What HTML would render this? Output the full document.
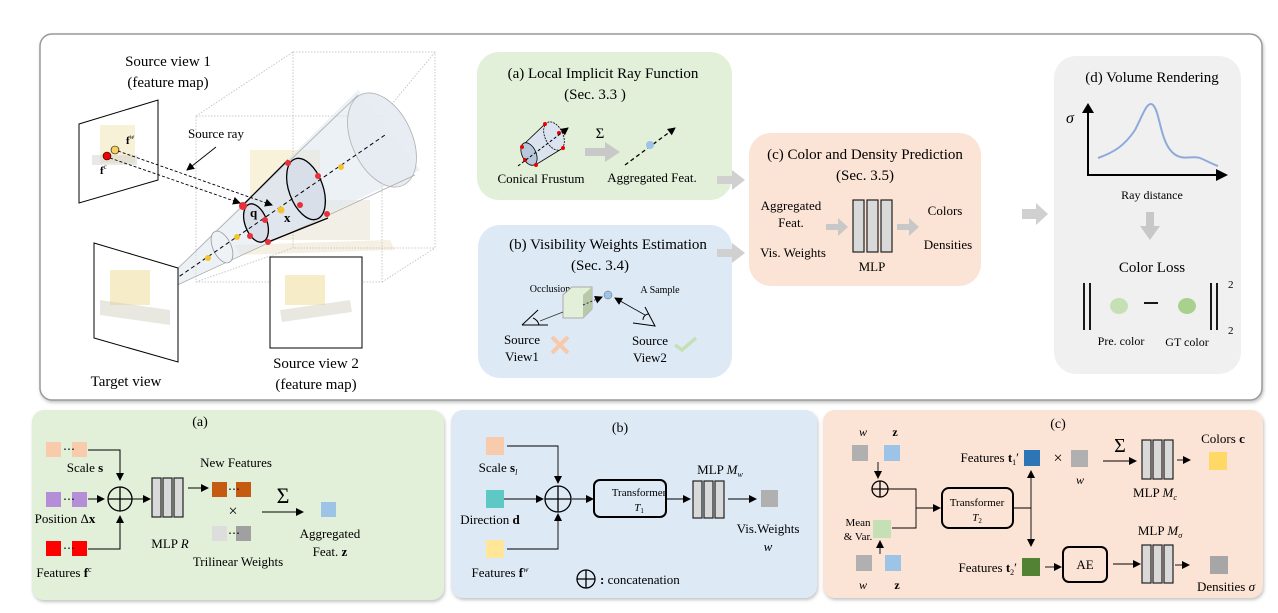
<!DOCTYPE html>
<html><head><meta charset="utf-8"><style>
html,body{margin:0;padding:0;background:#fff;}
svg{display:block;font-family:"Liberation Serif",serif;}
</style></head><body>
<svg width="1278" height="613" viewBox="0 0 1278 613" xmlns="http://www.w3.org/2000/svg">
<defs>
<marker id="ah" markerWidth="8" markerHeight="8" refX="7" refY="4" orient="auto" markerUnits="userSpaceOnUse"><path d="M0,0 L8,4 L0,8 z" fill="#000"/></marker>
<filter id="sh" x="-5%" y="-5%" width="110%" height="115%"><feDropShadow dx="1" dy="2" stdDeviation="1.5" flood-color="#888" flood-opacity="0.5"/></filter>
</defs>
<!-- top frame -->
<rect x="40" y="34" width="1222" height="366" rx="12" fill="#fff" stroke="#9a9a9a" stroke-width="1.5" filter="url(#sh)"/>

<!-- 3D scene -->
<g stroke="#bbb" stroke-width="0.8" stroke-dasharray="1.5,1.5" fill="none">
<rect x="196" y="116" width="186" height="166"/>
<rect x="293" y="52" width="142" height="196"/>
<line x1="196" y1="116" x2="293" y2="52"/><line x1="382" y1="116" x2="435" y2="52"/>
<line x1="382" y1="282" x2="435" y2="248"/><line x1="196" y1="282" x2="293" y2="248"/>
</g>
<!-- faint bulldozer -->
<g opacity="0.22">
<rect x="250" y="150" width="70" height="55" fill="#e8c860"/>
<polygon points="235,245 390,240 395,250 240,255" fill="#d9b98a"/>
<rect x="255" y="200" width="115" height="40" fill="#c9b890"/>
</g>
<!-- cone -->
<polygon points="145,300 358,90 420,170" fill="#dde6ee" opacity="0.55"/>
<ellipse cx="382" cy="140" rx="30" ry="50" transform="rotate(-25 382 140)" fill="#e6ecf2" stroke="#aaa" stroke-width="0.8" opacity="0.9"/>
<line x1="145" y1="300" x2="358" y2="95" stroke="#aaa" stroke-width="0.8"/>
<line x1="145" y1="300" x2="415" y2="175" stroke="#aaa" stroke-width="0.8"/>
<ellipse cx="222" cy="247" rx="9" ry="17" transform="rotate(-25 222 247)" fill="#eef2f6" stroke="#999" stroke-width="0.8"/>
<!-- frustum -->
<polygon points="243,205 288,160 328,217 268,240" fill="#dfe5ee" opacity="0.8"/>
<line x1="243" y1="205" x2="288" y2="160" stroke="#000" stroke-width="1.3"/>
<line x1="268" y1="242" x2="328" y2="218" stroke="#000" stroke-width="1.3"/>
<ellipse cx="306" cy="189" rx="17" ry="32" transform="rotate(-20 306 189)" fill="#d8dfe9" stroke="#000" stroke-width="1.3"/>
<ellipse cx="256" cy="223" rx="11" ry="20" transform="rotate(-20 256 223)" fill="#d8dfe9" stroke="#000" stroke-width="1.3"/>
<line x1="145" y1="300" x2="385" y2="135" stroke="#000" stroke-width="1" stroke-dasharray="4,3"/>
<g fill="#f4c430"><circle cx="208" cy="258" r="3"/><circle cx="237" cy="237" r="3"/><circle cx="281" cy="210" r="3.5"/><circle cx="341" cy="167" r="3"/></g>
<g fill="#e8303a"><circle cx="243" cy="206" r="4"/><circle cx="265" cy="220" r="3"/><circle cx="250" cy="236" r="3"/><circle cx="268" cy="242" r="3"/><circle cx="288" cy="163" r="3"/><circle cx="318" cy="176" r="3"/><circle cx="300" cy="205" r="3"/><circle cx="327" cy="214" r="3"/></g>
<text x="250" y="217" font-size="13" font-weight="bold">q</text>
<text x="284" y="222" font-size="13" font-weight="bold">x</text>
<!-- source view 1 -->
<polygon points="79,124 158,100 158,180 79,203" fill="#fff" stroke="#000" stroke-width="1"/>
<rect x="100" y="125" width="35" height="38" fill="#e8d890" opacity="0.35"/>
<rect x="92" y="155" width="45" height="10" fill="#ccc" opacity="0.45"/>
<circle cx="107" cy="156" r="4" fill="#e00" stroke="#000" stroke-width="0.6"/>
<circle cx="115" cy="150" r="4" fill="#f7d060" stroke="#000" stroke-width="0.6"/>
<text x="126" y="144" font-size="11" font-weight="bold">f<tspan font-size="7" dy="-5" font-style="italic" font-weight="normal">w</tspan></text>
<text x="100" y="174" font-size="11" font-weight="bold">f<tspan font-size="7" dy="-5" font-weight="normal">c</tspan></text>
<line x1="118" y1="151" x2="272" y2="205" stroke="#000" stroke-width="0.9" stroke-dasharray="3,2" marker-end="url(#ah)"/>
<line x1="110" y1="158" x2="240" y2="203" stroke="#000" stroke-width="0.9" stroke-dasharray="3,2" marker-end="url(#ah)"/>
<text x="188" y="138" font-size="13">Source ray</text>
<line x1="216" y1="147" x2="187" y2="170" stroke="#000" stroke-width="0.9" marker-end="url(#ah)"/>
<text x="168" y="66" font-size="15" text-anchor="middle">Source view 1</text>
<text x="168" y="87" font-size="15" text-anchor="middle">(feature map)</text>
<!-- target view -->
<polygon points="94,243 178,268 178,362 94,338" fill="#fff" stroke="#000" stroke-width="1"/>
<rect x="110" y="270" width="40" height="35" fill="#e8c860" opacity="0.35"/>
<polygon points="100,300 170,310 170,325 100,315" fill="#ccb" opacity="0.45"/>
<text x="126" y="386" font-size="15" text-anchor="middle">Target view</text>
<!-- source view 2 -->
<rect x="270" y="257" width="92" height="91" fill="#fff" stroke="#000" stroke-width="1"/>
<rect x="285" y="275" width="40" height="30" fill="#e8c860" opacity="0.35"/>
<polygon points="280,310 350,300 352,312 282,322" fill="#ccb" opacity="0.45"/>
<text x="316" y="368" font-size="15" text-anchor="middle">Source view 2</text>
<text x="316" y="389" font-size="15" text-anchor="middle">(feature map)</text>

<!-- (a) top -->
<rect x="477" y="52" width="255" height="148" rx="22" fill="#e2efd9"/>
<text x="603" y="78" font-size="15" text-anchor="middle">(a) Local Implicit Ray Function</text>
<text x="595" y="99" font-size="15" text-anchor="middle">(Sec. 3.3 )</text>
<polygon points="522,146 545,124 563,148 537,164" fill="#dbe3ee" stroke="#000" stroke-width="0.8"/>
<ellipse cx="554" cy="136" rx="9" ry="15" transform="rotate(-25 554 136)" fill="#dbe3ee" stroke="#000" stroke-width="0.8" stroke-dasharray="2,1"/>
<ellipse cx="529" cy="154" rx="7" ry="12" transform="rotate(-25 529 154)" fill="#b8c8dc" stroke="#000" stroke-width="0.8"/>
<g fill="#e00"><circle cx="545" cy="124" r="2"/><circle cx="522" cy="147" r="2"/><circle cx="536" cy="165" r="2"/><circle cx="563" cy="148" r="2"/><circle cx="559" cy="133" r="2"/><circle cx="525" cy="160" r="2"/></g>
<line x1="518" y1="166" x2="568" y2="128" stroke="#000" stroke-dasharray="3,2" marker-end="url(#ah)"/>
<text x="600" y="138" font-size="15" text-anchor="middle">Σ</text>
<polygon points="585,148 605,148 605,142 620,152 605,162 605,156 585,156" fill="#c8c8c8"/>
<line x1="625" y1="165" x2="675" y2="128" stroke="#000" stroke-width="1.3" stroke-dasharray="4,3" marker-end="url(#ah)"/>
<circle cx="650" cy="145" r="4" fill="#9dc3e6"/>
<text x="541" y="183" font-size="13" text-anchor="middle">Conical Frustum</text>
<text x="652" y="182" font-size="13" text-anchor="middle">Aggregated Feat.</text>
<!-- (b) top -->
<rect x="478" y="225" width="254" height="153" rx="22" fill="#dde9f5"/>
<text x="608" y="249" font-size="15" text-anchor="middle">(b) Visibility Weights Estimation</text>
<text x="600" y="270" font-size="15" text-anchor="middle">(Sec. 3.4)</text>
<text x="550" y="292" font-size="10" text-anchor="middle">Occlusion</text>
<text x="660" y="293" font-size="10" text-anchor="middle">A Sample</text>
<polygon points="563,295 572,287 592,287 592,309 583,318 563,318" fill="#e2efd9" stroke="#aaa" stroke-width="1"/>
<polygon points="583,295 592,287 592,309 583,318" fill="#b8c8a8"/>
<line x1="540" y1="321" x2="563" y2="312" stroke="#333" stroke-width="0.8"/>
<path d="M522,325 L538,310 M522,325 L548,325 M533,318 A10 10 0 0 1 539,325" stroke="#000" fill="none" stroke-width="1"/>
<line x1="583" y1="305" x2="602" y2="297" stroke="#333" stroke-dasharray="2,2" marker-end="url(#ah)"/>
<circle cx="608" cy="295" r="4" fill="#9dc3e6" stroke="#666" stroke-width="0.5"/>
<line x1="645" y1="315" x2="615" y2="298" stroke="#000" stroke-width="0.8" marker-end="url(#ah)"/>
<path d="M633,323 L655,326 L645,307 M643,320 A6 6 0 0 1 649,314" stroke="#000" fill="none" stroke-width="1"/>
<text x="522" y="344" font-size="13" text-anchor="middle">Source</text>
<text x="522" y="361" font-size="13" text-anchor="middle">View1</text>
<path d="M552,337 L568,353 M568,337 L552,353" stroke="#f8c8a8" stroke-width="4"/>
<text x="650" y="345" font-size="13" text-anchor="middle">Source</text>
<text x="650" y="362" font-size="13" text-anchor="middle">View2</text>
<path d="M675,345 L682,350 L696,338" stroke="#c5e0b4" stroke-width="3.5" fill="none"/>
<!-- gray arrows -->
<polygon points="717,176 732,176 732,170 745,180 732,190 732,184 717,184" fill="#d0d0d0"/>
<polygon points="717,249 732,249 732,243 745,253 732,263 732,257 717,257" fill="#d0d0d0"/>
<!-- (c) top -->
<rect x="749" y="133" width="232" height="153" rx="22" fill="#fbe3d5"/>
<text x="865" y="159" font-size="15" text-anchor="middle">(c) Color and Density Prediction</text>
<text x="865" y="180" font-size="15" text-anchor="middle">(Sec. 3.5)</text>
<text x="791" y="210" font-size="13" text-anchor="middle">Aggregated</text>
<text x="791" y="227" font-size="13" text-anchor="middle">Feat.</text>
<text x="793" y="257" font-size="13" text-anchor="middle">Vis. Weights</text>
<g fill="#d9d9d9" stroke="#222" stroke-width="1.2"><rect x="853" y="200" width="11" height="52"/><rect x="867" y="200" width="11" height="52"/><rect x="881" y="200" width="11" height="52"/></g>
<text x="872" y="271" font-size="13" text-anchor="middle">MLP</text>
<polygon points="826,224 838,224 838,218 848,227 838,236 838,230 826,230" fill="#c8c8c8"/>
<polygon points="897,224 909,224 909,218 919,227 909,236 909,230 897,230" fill="#c8c8c8"/>
<text x="945" y="215" font-size="13" text-anchor="middle">Colors</text>
<text x="948" y="249" font-size="13" text-anchor="middle">Densities</text>
<polygon points="1022,209 1036,209 1036,203 1048,214 1036,225 1036,219 1022,219" fill="#d0d0d0"/>
<!-- (d) -->
<rect x="1054" y="56" width="187" height="318" rx="22" fill="#f0f0f0"/>
<text x="1152" y="82" font-size="15" text-anchor="middle">(d)  Volume Rendering</text>
<line x1="1088" y1="176" x2="1088" y2="112" stroke="#000" stroke-width="2"/>
<polygon points="1082,113 1088,103 1094,113" fill="#000"/>
<line x1="1087" y1="175" x2="1218" y2="175" stroke="#000" stroke-width="2"/>
<polygon points="1216,169 1228,175 1216,181" fill="#000"/>
<text x="1066" y="123" font-size="16" font-style="italic">σ</text>
<path d="M1098,158 C1115,152 1125,145 1135,130 C1143,115 1147,100 1153,105 C1160,112 1160,140 1172,152 C1182,162 1192,155 1200,158 C1205,160 1212,164 1218,166" fill="none" stroke="#8eaadb" stroke-width="2"/>
<text x="1152" y="199" font-size="12" text-anchor="middle">Ray distance</text>
<polygon points="1146,212 1154,212 1154,226 1160,226 1150,240 1140,226 1146,226" fill="#c8c8c8"/>
<text x="1152" y="272" font-size="15" text-anchor="middle">Color Loss</text>
<g stroke="#000" stroke-width="1.8"><line x1="1084" y1="283" x2="1084" y2="330"/><line x1="1090" y1="283" x2="1090" y2="330"/><line x1="1211" y1="283" x2="1211" y2="330"/><line x1="1217" y1="283" x2="1217" y2="330"/><line x1="1144" y1="303" x2="1158" y2="303"/></g>
<ellipse cx="1119" cy="306" rx="9" ry="8" fill="#c5e0b4"/>
<ellipse cx="1187" cy="306" rx="9" ry="8" fill="#a9d18e"/>
<text x="1228" y="288" font-size="11">2</text><text x="1228" y="334" font-size="11">2</text>
<text x="1121" y="345" font-size="12" text-anchor="middle">Pre. color</text>
<text x="1187" y="346" font-size="12" text-anchor="middle">GT color</text>

<!-- ===== bottom (a) ===== -->
<rect x="32" y="410" width="412" height="190" rx="12" fill="#e2efd9" filter="url(#sh)"/>
<text x="200" y="426" font-size="14" text-anchor="middle">(a)</text>
<g stroke="#000" stroke-width="1" fill="none">
<polyline points="88,450 120,450 120,480" marker-end="url(#ah)"/>
<line x1="88" y1="499" x2="104" y2="499" marker-end="url(#ah)"/>
<polyline points="88,549 120,549 120,516" marker-end="url(#ah)"/>
<line x1="132" y1="499" x2="150" y2="499" marker-end="url(#ah)"/>
<line x1="188" y1="488" x2="208" y2="488" marker-end="url(#ah)"/>
<line x1="262" y1="512" x2="303" y2="512" marker-end="url(#ah)"/>
</g>
<circle cx="120" cy="499" r="12" fill="none" stroke="#000" stroke-width="1.3"/>
<path d="M108,499 H132 M120,487 V511" stroke="#000" stroke-width="1.3"/>
<g fill="#f8cbad"><rect x="46" y="442" width="15" height="15"/><rect x="72" y="442" width="15" height="15"/></g>
<g fill="#b48fd8"><rect x="46" y="492" width="15" height="15"/><rect x="72" y="492" width="15" height="15"/></g>
<g fill="#f00"><rect x="46" y="541" width="15" height="15"/><rect x="72" y="541" width="15" height="15"/></g>
<g fill="#c55a11"><rect x="212" y="482" width="15" height="15"/><rect x="236" y="482" width="15" height="15"/></g>
<rect x="212" y="526" width="15" height="15" fill="#ddd"/><rect x="236" y="526" width="15" height="15" fill="#a0a0a0"/>
<rect x="321" y="502" width="15" height="15" fill="#9dc3e6"/>
<g font-size="12"><text x="63" y="453">⋯</text><text x="63" y="503">⋯</text><text x="63" y="552">⋯</text><text x="228" y="493">⋯</text><text x="228" y="537">⋯</text></g>
<g fill="#d9d9d9" stroke="#222" stroke-width="1.2"><rect x="152" y="478" width="9" height="39"/><rect x="163" y="478" width="9" height="39"/><rect x="174" y="478" width="9" height="39"/></g>
<g font-size="13" text-anchor="middle">
<text x="85" y="472">Scale <tspan font-weight="bold">s</tspan></text>
<text x="65" y="523">Position Δ<tspan font-weight="bold">x</tspan></text>
<text x="64" y="577">Features  <tspan font-weight="bold">f</tspan><tspan font-size="8" dy="-5">c</tspan></text>
<text x="170" y="548">MLP <tspan font-style="italic">R</tspan></text>
<text x="236" y="467">New Features</text>
<text x="238" y="566">Trilinear Weights</text>
<text x="330" y="538">Aggregated</text>
<text x="330" y="556">Feat. <tspan font-weight="bold">z</tspan></text>
</g>
<text x="233" y="516" font-size="16" text-anchor="middle">×</text>
<text x="283" y="503" font-size="22" text-anchor="middle">Σ</text>

<!-- ===== bottom (b) ===== -->
<rect x="451" y="410" width="366" height="188" rx="12" fill="#dde9f5" filter="url(#sh)"/>
<text x="620" y="432" font-size="14" text-anchor="middle">(b)</text>
<g stroke="#000" stroke-width="0.9" fill="none">
<polyline points="507,446 558,446 558,483" marker-end="url(#ah)"/>
<line x1="503" y1="499" x2="543" y2="499" marker-end="url(#ah)"/>
<polyline points="507,549 558,549 558,514" marker-end="url(#ah)"/>
<line x1="572" y1="499" x2="593" y2="499" marker-end="url(#ah)"/>
<line x1="667" y1="499" x2="690" y2="499" marker-end="url(#ah)"/>
<line x1="728" y1="499" x2="756" y2="499" marker-end="url(#ah)"/>
</g>
<circle cx="558" cy="499" r="13" fill="none" stroke="#000" stroke-width="1.3"/>
<path d="M545,499 H571 M558,486 V512" stroke="#000" stroke-width="1.3"/>
<rect x="486" y="437" width="18" height="18" fill="#f8cbad"/>
<rect x="486" y="490" width="18" height="18" fill="#5ec8c4"/>
<rect x="486" y="540" width="18" height="18" fill="#ffe699"/>
<rect x="594" y="480" width="72" height="37" rx="6" fill="none" stroke="#000" stroke-width="2"/>
<text x="639" y="496" font-size="11" text-anchor="middle">Transformer</text>
<text x="639" y="511" font-size="11" font-style="italic" text-anchor="middle">T<tspan font-size="7" dy="2" font-style="normal">1</tspan></text>
<g fill="#d9d9d9" stroke="#222" stroke-width="1.2"><rect x="693" y="481" width="9" height="37"/><rect x="704" y="481" width="9" height="37"/><rect x="715" y="481" width="9" height="37"/></g>
<rect x="761" y="490" width="17" height="17" fill="#b0b0b0"/>
<g font-size="13" text-anchor="middle">
<text x="498" y="472">Scale <tspan font-weight="bold">s</tspan><tspan font-size="8" dy="3" font-style="italic">l</tspan></text>
<text x="490" y="524">Direction <tspan font-weight="bold">d</tspan></text>
<text x="500" y="577">Features <tspan font-weight="bold">f</tspan><tspan font-size="8" dy="-5" font-style="italic">w</tspan></text>
<text x="720" y="474">MLP <tspan font-style="italic">M</tspan><tspan font-size="8" dy="3" font-style="italic">w</tspan></text>
<text x="768" y="533">Vis.Weights</text>
<text x="768" y="551" font-style="italic">w</text>
</g>
<circle cx="586" cy="579" r="9" fill="none" stroke="#000" stroke-width="1.3"/>
<path d="M577,579 H595 M586,570 V588" stroke="#000" stroke-width="1.3"/>
<text x="600" y="584" font-size="13"><tspan font-weight="bold">:</tspan> concatenation</text>

<!-- ===== bottom (c) ===== -->
<rect x="823" y="410" width="440" height="188" rx="12" fill="#fbe3d5" filter="url(#sh)"/>
<text x="1058" y="428" font-size="14" text-anchor="middle">(c)</text>
<g font-size="12" text-anchor="middle">
<text x="863" y="436" font-style="italic">w</text><text x="895" y="436" font-weight="bold">z</text>
<text x="863" y="589" font-style="italic">w</text><text x="897" y="589" font-weight="bold">z</text>
<text x="1080" y="484" font-style="italic">w</text>
</g>
<rect x="852" y="445" width="16" height="16" fill="#b0b0b0"/><rect x="884" y="445" width="16" height="16" fill="#9dc3e6"/>
<rect x="856" y="555" width="16" height="16" fill="#b0b0b0"/><rect x="885" y="555" width="16" height="16" fill="#9dc3e6"/>
<circle cx="880" cy="489" r="8" fill="none" stroke="#000" stroke-width="1.3"/>
<path d="M872,489 H888 M880,481 V497" stroke="#000" stroke-width="1.3"/>
<rect x="873" y="520" width="18" height="18" fill="#c5e0b4"/>
<text x="858" y="526" font-size="11" text-anchor="middle">Mean</text>
<text x="858" y="540" font-size="11" text-anchor="middle">&amp; Var.</text>
<g stroke="#000" stroke-width="0.9" fill="none">
<line x1="878" y1="462" x2="878" y2="478" marker-end="url(#ah)"/>
<line x1="880" y1="554" x2="880" y2="541" marker-end="url(#ah)"/>
<polyline points="888,489 916,489 916,528 892,528"/>
<line x1="916" y1="508" x2="940" y2="508" marker-end="url(#ah)"/>
<line x1="1013" y1="508" x2="1031" y2="508"/>
<line x1="1031" y1="508" x2="1031" y2="471" marker-end="url(#ah)"/>
<line x1="1031" y1="508" x2="1031" y2="546" marker-end="url(#ah)"/>
<line x1="1103" y1="461" x2="1136" y2="461" marker-end="url(#ah)"/>
<line x1="1177" y1="460" x2="1190" y2="460" marker-end="url(#ah)"/>
<line x1="1045" y1="567" x2="1061" y2="567" marker-end="url(#ah)"/>
<line x1="1113" y1="564" x2="1140" y2="564" marker-end="url(#ah)"/>
<line x1="1175" y1="565" x2="1189" y2="565" marker-end="url(#ah)"/>
</g>
<rect x="942" y="488" width="71" height="40" rx="7" fill="none" stroke="#000" stroke-width="2"/>
<text x="977" y="506" font-size="11" text-anchor="middle">Transformer</text>
<text x="977" y="521" font-size="11" font-style="italic" text-anchor="middle">T<tspan font-size="7" dy="2" font-style="normal">2</tspan></text>
<text x="1019" y="462" font-size="13" text-anchor="end">Features <tspan font-weight="bold">t</tspan><tspan font-size="8" dy="3">1</tspan><tspan dy="-3">′</tspan></text>
<rect x="1024" y="450" width="16" height="16" fill="#2e75b6"/>
<text x="1058" y="463" font-size="16" text-anchor="middle">×</text>
<rect x="1071" y="450" width="17" height="17" fill="#b0b0b0"/>
<text x="1120" y="452" font-size="20" text-anchor="middle">Σ</text>
<g fill="#d9d9d9" stroke="#222" stroke-width="1.2"><rect x="1142" y="440" width="9" height="39"/><rect x="1153" y="440" width="9" height="39"/><rect x="1164" y="440" width="9" height="39"/></g>
<text x="1155" y="497" font-size="13" text-anchor="middle">MLP <tspan font-style="italic">M</tspan><tspan font-size="8" dy="3" font-style="italic">c</tspan></text>
<text x="1223" y="443" font-size="13" text-anchor="middle">Colors <tspan font-weight="bold">c</tspan></text>
<rect x="1209" y="452" width="18" height="18" fill="#ffd966"/>
<text x="1017" y="572" font-size="13" text-anchor="end">Features <tspan font-weight="bold">t</tspan><tspan font-size="8" dy="3">2</tspan><tspan dy="-3">′</tspan></text>
<rect x="1022" y="558" width="18" height="18" fill="#548235"/>
<rect x="1063" y="547" width="44" height="35" rx="6" fill="none" stroke="#000" stroke-width="2"/>
<text x="1085" y="569" font-size="13" text-anchor="middle">AE</text>
<g fill="#d9d9d9" stroke="#222" stroke-width="1.2"><rect x="1142" y="545" width="9" height="38"/><rect x="1153" y="545" width="9" height="38"/><rect x="1164" y="545" width="9" height="38"/></g>
<text x="1160" y="535" font-size="13" text-anchor="middle">MLP <tspan font-style="italic">M</tspan><tspan font-size="8" dy="3" font-style="italic">σ</tspan></text>
<rect x="1210" y="556" width="18" height="18" fill="#a6a6a6"/>
<text x="1226" y="591" font-size="13" text-anchor="middle">Densities <tspan font-style="italic">σ</tspan></text>
</svg>
</body></html>
